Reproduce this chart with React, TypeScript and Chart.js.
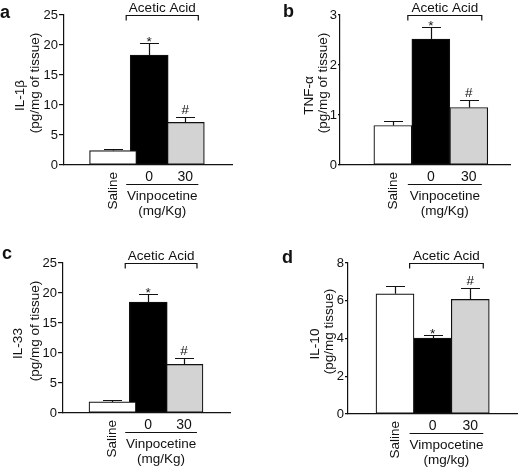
import React, { useEffect, useRef } from 'react';
import { Chart, registerables } from 'chart.js';

Chart.register(...registerables);

// ---------- data ----------
const categories = ['Saline', '0', '30'];
const significance = ['', '*', '#'];
const treatmentLabel = 'Acetic Acid';
const panelLetters = ['a', 'b', 'c', 'd'];

const il1bMeans = [2.4, 18.3, 7.1];
const il1bErrors = [0.25, 2.0, 0.95];
const tnfMeans = [0.79, 2.52, 1.15];
const tnfErrors = [0.1, 0.24, 0.15];
const il33Means = [1.85, 18.5, 8.1];
const il33Errors = [0.35, 1.25, 1.1];
const il10Means = [6.37, 4.02, 6.07];
const il10Errors = [0.41, 0.19, 0.6];

const il1bTitle = ['IL-1β', '(pg/mg of tissue)'];
const tnfTitle = ['TNF-α', '(pg/mg of tissue)'];
const il33Title = ['IL-33', '(pg/mg of tissue)'];
const il10Title = ['IL-10', '(pg/mg tissue)'];

const drugLabel = ['Vinpocetine', '(mg/Kg)'];
const drugLabelD = ['Vimpocetine', '(mg/kg)'];

const yMaxes = [25, 3, 25, 8];
const ySteps = [5, 1, 5, 2];

// ---------- styles / layout ----------
const INK = '#111111';
const FONT = '"Liberation Sans", Arial, Helvetica, sans-serif';
const W = 260;
const H = 234;
const barColors = ['#ffffff', '#000000', '#d3d3d3'];

type Panel = {
  letter: string;
  means: number[];
  errors: number[];
  title: string[];
  drug: string[];
  yMax: number;
  yStep: number;
  pos: { x: number; y: number };
  area: { left: number; top: number; right: number; bottom: number };
  xMin: number;
  xMax: number;
  barWidths: number[];
  tickLen: number;
  titleX: number[];
  letterPos: { x: number; y: number };
};

const panels: Panel[] = [
  {
    letter: panelLetters[0], means: il1bMeans, errors: il1bErrors, title: il1bTitle, drug: drugLabel,
    yMax: yMaxes[0], yStep: ySteps[0], pos: { x: 0, y: 0 },
    area: { left: 64, top: 15, right: 232, bottom: 165 }, xMin: 0.417, xMax: 3.517,
    barWidths: [47, 38, 38], tickLen: 5, titleX: [20, 35], letterPos: { x: 0, y: 18 },
  },
  {
    letter: panelLetters[1], means: tnfMeans, errors: tnfErrors, title: tnfTitle, drug: drugLabel,
    yMax: yMaxes[1], yStep: ySteps[1], pos: { x: 260, y: 0 },
    area: { left: 80, top: 15, right: 250, bottom: 165 }, xMin: 0.354, xMax: 3.339,
    barWidths: [38, 38, 38], tickLen: 2, titleX: [49, 63], letterPos: { x: 23, y: 17 },
  },
  {
    letter: panelLetters[2], means: il33Means, errors: il33Errors, title: il33Title, drug: drugLabel,
    yMax: yMaxes[2], yStep: ySteps[2], pos: { x: 0, y: 234 },
    area: { left: 63, top: 29, right: 230, bottom: 179 }, xMin: 0.394, xMax: 3.509,
    barWidths: [47, 38, 38], tickLen: 5, titleX: [18.5, 35], letterPos: { x: 2, y: 25 },
  },
  {
    letter: panelLetters[3], means: il10Means, errors: il10Errors, title: il10Title, drug: drugLabelD,
    yMax: yMaxes[3], yStep: ySteps[3], pos: { x: 260, y: 234 },
    area: { left: 88, top: 29, right: 257, bottom: 180 }, xMin: 0.5, xMax: 3.493,
    barWidths: [38, 38, 38], tickLen: 3, titleX: [55, 69], letterPos: { x: 22, y: 29 },
  },
];

function makeDecorPlugin(p: Panel) {
  return {
    id: 'decor',
    afterDraw(chart: any) {
      const ctx: CanvasRenderingContext2D = chart.ctx;
      const ys = chart.scales.y;
      const area = chart.chartArea;
      const bars = [0, 1, 2].map((i) => chart.getDatasetMeta(i).data[0] as any);
      ctx.save();
      ctx.strokeStyle = INK;
      ctx.fillStyle = INK;
      ctx.lineWidth = 1.2;

      // error bars + significance marks
      bars.forEach((bar, i) => {
        const x = Math.round(bar.x) + 0.5;
        const yTop = ys.getPixelForValue(p.means[i]);
        const yErr = Math.round(ys.getPixelForValue(p.means[i] + p.errors[i])) + 0.5;
        ctx.beginPath();
        ctx.moveTo(x, yTop);
        ctx.lineTo(x, yErr);
        ctx.moveTo(x - 9.5, yErr);
        ctx.lineTo(x + 9.5, yErr);
        ctx.stroke();
        const m = significance[i];
        if (m) {
          ctx.font = `13.5px ${FONT}`;
          ctx.textAlign = 'center';
          ctx.textBaseline = 'alphabetic';
          ctx.fillText(m, bar.x, m === '*' ? yErr + 2.5 : yErr - 3.5);
        }
      });

      // bracket span: from black bar to gray bar
      const spanL = bars[1].x - bars[1].width / 2 - 4;
      const spanR = bars[2].x + bars[2].width / 2 - 6;
      const spanMid = (spanL + spanR) / 2;

      // Acetic Acid bracket
      const by = Math.round(area.top) + 0.5;
      ctx.beginPath();
      ctx.moveTo(spanL, by + 5);
      ctx.lineTo(spanL, by);
      ctx.lineTo(spanR, by);
      ctx.lineTo(spanR, by + 5);
      ctx.stroke();
      ctx.font = `13.5px ${FONT}`;
      ctx.textAlign = 'center';
      ctx.textBaseline = 'alphabetic';
      ctx.fillText(treatmentLabel, spanMid, by - 3.5);

      // x category labels
      const b = area.bottom;
      ctx.save();
      ctx.translate(bars[0].x, b + 7);
      ctx.rotate(-Math.PI / 2);
      ctx.textAlign = 'right';
      ctx.textBaseline = 'middle';
      ctx.font = `13.5px ${FONT}`;
      ctx.fillText(categories[0], 0, 0);
      ctx.restore();
      ctx.font = `14px ${FONT}`;
      ctx.textAlign = 'center';
      ctx.textBaseline = 'alphabetic';
      ctx.fillText(categories[1], bars[1].x, b + 16);
      ctx.fillText(categories[2], bars[2].x, b + 16);

      // drug underline and label
      const uy = Math.round(b + 19) + 0.5;
      ctx.beginPath();
      ctx.moveTo(spanL, uy);
      ctx.lineTo(spanR, uy);
      ctx.stroke();
      ctx.font = `13.5px ${FONT}`;
      ctx.fillText(p.drug[0], spanMid, b + 35);
      ctx.fillText(p.drug[1], spanMid, b + 49.5);

      // y-axis title (two rotated lines)
      const mid = (area.top + area.bottom) / 2;
      const lineY = [mid + 5.5, mid - 7];
      p.title.forEach((t, i) => {
        ctx.save();
        ctx.translate(p.titleX[i], lineY[i]);
        ctx.rotate(-Math.PI / 2);
        ctx.textAlign = 'center';
        ctx.textBaseline = 'middle';
        ctx.font = `13.5px ${FONT}`;
        ctx.fillText(t, 0, 0);
        ctx.restore();
      });

      // panel letter
      ctx.font = `bold 18px ${FONT}`;
      ctx.textAlign = 'left';
      ctx.textBaseline = 'alphabetic';
      ctx.fillText(p.letter, p.letterPos.x, p.letterPos.y);

      ctx.restore();
    },
  };
}

function PanelChart({ p }: { p: Panel }) {
  const ref = useRef<HTMLCanvasElement | null>(null);
  useEffect(() => {
    if (!ref.current) return;
    const datasets = categories.map((c, i) => ({
      label: c,
      data: [{ x: i + 1, y: p.means[i] }],
      backgroundColor: barColors[i],
      borderColor: INK,
      borderWidth: 1.2,
      borderSkipped: false as any,
      barThickness: p.barWidths[i],
      grouped: false,
    }));
    const chart = new Chart(ref.current, {
      type: 'bar',
      data: { datasets },
      plugins: [makeDecorPlugin(p)],
      options: {
        animation: false,
        responsive: false,
        devicePixelRatio: 1,
        layout: {
          padding: { left: 0, top: p.area.top, right: W - p.area.right, bottom: 0 },
        },
        plugins: { legend: { display: false }, tooltip: { enabled: false } },
        scales: {
          x: {
            type: 'linear',
            min: p.xMin,
            max: p.xMax,
            ticks: { display: false },
            grid: { display: false },
            border: { display: true, color: INK, width: 1.2 },
            afterFit: (s: any) => {
              s.height = H - p.area.bottom;
            },
          },
          y: {
            type: 'linear',
            min: 0,
            max: p.yMax,
            ticks: {
              stepSize: p.yStep,
              color: INK,
              padding: 1,
              font: { family: FONT, size: 13 },
            },
            grid: {
              display: true,
              drawOnChartArea: false,
              drawTicks: true,
              tickLength: p.tickLen,
              color: INK,
              lineWidth: 1.2,
            },
            border: { display: true, color: INK, width: 1.2 },
            afterFit: (s: any) => {
              s.width = p.area.left;
            },
          },
        },
      } as any,
    });
    return () => chart.destroy();
  }, [p]);
  return (
    <canvas
      ref={ref}
      width={W}
      height={H}
      style={{ position: 'absolute', left: p.pos.x, top: p.pos.y, width: W, height: H, display: 'block' }}
    />
  );
}

export default function App() {
  return (
    <div style={{ position: 'absolute', left: 0, top: 0, width: 520, height: 468, background: '#ffffff' }}>
      {panels.map((p) => (
        <PanelChart key={p.letter} p={p} />
      ))}
    </div>
  );
}
